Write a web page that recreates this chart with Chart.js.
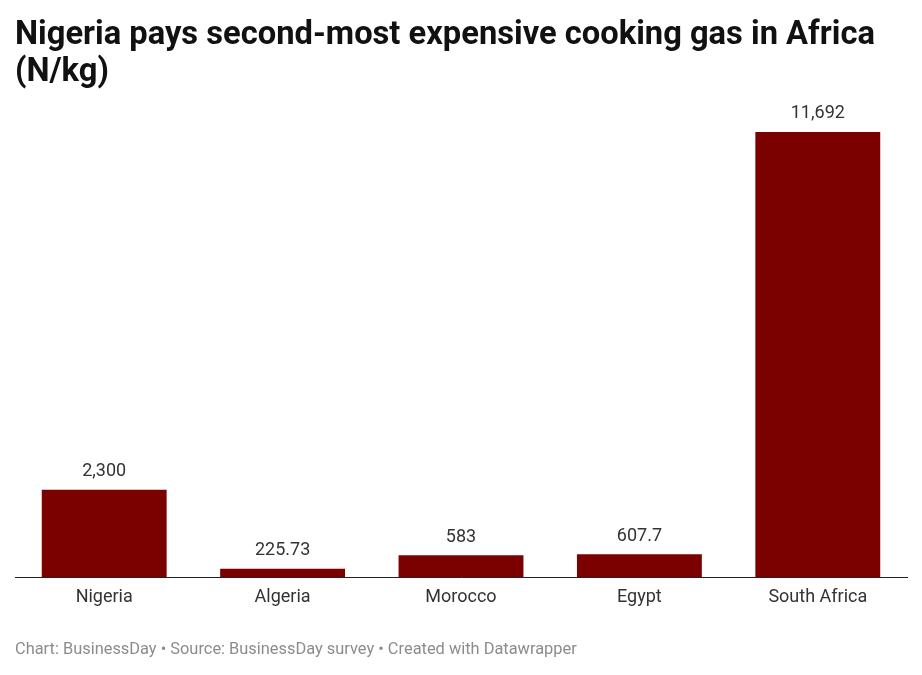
<!DOCTYPE html>
<html>
<head>
<meta charset="utf-8">
<script src="https://cdn.jsdelivr.net/npm/chart.js@4/dist/chart.umd.min.js"></script>
<style>
  html, body { margin: 0; padding: 0; background: #fff; }
  .wrap { position: relative; width: 922px; height: 675px; }
</style>
</head>
<body>
<div class="wrap"><canvas id="gasChart"></canvas></div>
<script>
// data
const countries = ['Nigeria', 'Algeria', 'Morocco', 'Egypt', 'South Africa'];
const pricePerKg = [2300, 225.73, 583, 607.7, 11692];
const valueLabels = ['2,300', '225.73', '583', '607.7', '11,692'];
const titleLines = ['Nigeria pays second-most expensive cooking gas in Africa', '(N/kg)'];
const footerText = 'Chart: BusinessDay • Source: BusinessDay survey • Created with Datawrapper';

const barColor = '#7b0000';
const textColor = '#333333';

// value labels above each bar
const valueLabelPlugin = {
  id: 'valueLabels',
  afterDatasetsDraw(chart) {
    const ctx = chart.ctx;
    const meta = chart.getDatasetMeta(0);
    ctx.save();
    ctx.font = '18px Roboto';
    ctx.fillStyle = textColor;
    ctx.textAlign = 'center';
    ctx.textBaseline = 'middle';
    meta.data.forEach((bar, i) => {
      ctx.fillText(valueLabels[i], bar.x, bar.y - 18);
    });
    ctx.restore();
  }
};

// footer line at the bottom
const footerPlugin = {
  id: 'footerNote',
  afterDraw(chart) {
    const ctx = chart.ctx;
    ctx.save();
    ctx.font = '16.4px Roboto';
    ctx.fillStyle = '#8c8c8c';
    ctx.textAlign = 'left';
    ctx.textBaseline = 'middle';
    ctx.fillText(footerText, 15, 650);
    ctx.restore();
  }
};

new Chart(document.getElementById('gasChart').getContext('2d'), {
  type: 'bar',
  data: {
    labels: countries,
    datasets: [{
      data: pricePerKg,
      backgroundColor: barColor,
      borderWidth: 0,
      categoryPercentage: 1,
      barPercentage: 0.7
    }]
  },
  options: {
    responsive: true,
    maintainAspectRatio: false,
    animation: false,
    layout: { padding: { left: 15, right: 15, top: 0, bottom: 66 } },
    plugins: {
      legend: { display: false },
      tooltip: { enabled: false },
      title: {
        display: true,
        text: titleLines,
        align: 'start',
        color: '#111111',
        font: { family: 'Roboto', size: 32.7, weight: 'bold', lineHeight: 1.13 },
        padding: { top: 17, bottom: 41 }
      }
    },
    scales: {
      x: {
        grid: { display: false },
        border: { display: true, color: '#222222', width: 1 },
        ticks: {
          color: textColor,
          font: { family: 'Roboto', size: 18 },
          padding: 1,
          maxRotation: 0
        }
      },
      y: {
        display: false,
        min: 0,
        max: 11692
      }
    }
  },
  plugins: [valueLabelPlugin, footerPlugin]
});
</script>
</body>
</html>
